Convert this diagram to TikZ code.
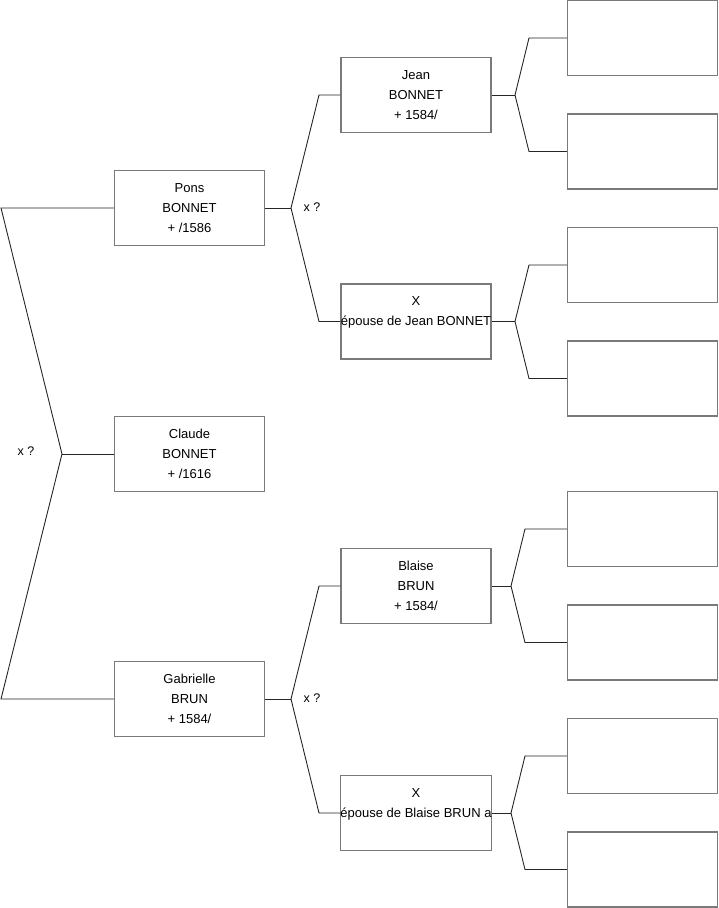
\documentclass[tikz,border=0pt]{standalone}
\usepackage{fontspec}
\setmainfont{Liberation Sans}
\begin{document}
\begin{tikzpicture}[x=1pt,y=-1pt,
  person/.style={draw=black!52,line width=1.4pt,fill=white,minimum width=150pt,minimum height=75pt,inner sep=0pt,align=center,font=\fontsize{13}{20}\selectfont},
  link/.style={draw=black!85,line width=0.9pt},
  lbl/.style={font=\fontsize{12.5}{14}\selectfont,inner sep=0pt}]
\useasboundingbox (0,0) rectangle (719,908);
% generation 1
\node[person] (pons) at (189.5,208) {Pons\\BONNET\\+ /1586};
\node[person] (claude) at (189.5,454) {Claude\\BONNET\\+ /1616};
\node[person] (gab) at (189.5,699) {Gabrielle\\BRUN\\+ 1584/};
% generation 2
\node[person] (jean) at (416,95) {Jean\\BONNET\\+ 1584/};
\node[person] (xj) at (416,321.5) {X\\épouse de Jean BONNET\\~};
\node[person] (blaise) at (416,586) {Blaise\\BRUN\\+ 1584/};
\node[person] (xb) at (416,813) {X\\épouse de Blaise BRUN a\\~};
% generation 3
\node[person] (r1) at (642.5,38) {};
\node[person] (r2) at (642.5,151.5) {};
\node[person] (r3) at (642.5,265) {};
\node[person] (r4) at (642.5,378.5) {};
\node[person] (r5) at (642.5,529) {};
\node[person] (r6) at (642.5,642.5) {};
\node[person] (r7) at (642.5,756) {};
\node[person] (r8) at (642.5,869.5) {};
% fork coordinates
\coordinate (fL) at (62,454);
\coordinate (fLa) at (1,208);
\coordinate (fLb) at (1,699);
\coordinate (fP) at (291,208);
\coordinate (fPa) at (319,95);
\coordinate (fPb) at (319,321.5);
\coordinate (fG) at (291,699);
\coordinate (fGa) at (319,586);
\coordinate (fGb) at (319,813);
\coordinate (fJ) at (515,95);
\coordinate (fJa) at (529,38);
\coordinate (fJb) at (529,151.5);
\coordinate (fX) at (515,321.5);
\coordinate (fXa) at (529,265);
\coordinate (fXb) at (529,378.5);
\coordinate (fB) at (511,586);
\coordinate (fBa) at (525,529);
\coordinate (fBb) at (525,642.5);
\coordinate (fY) at (511,813);
\coordinate (fYa) at (525,756);
\coordinate (fYb) at (525,869.5);
% connectors
\draw[link] (claude.west) -- (fL);
\draw[link] (fL) -- (fLa) -- (pons.west);
\draw[link] (fL) -- (fLb) -- (gab.west);
\draw[link] (pons.east) -- (fP);
\draw[link] (fP) -- (fPa) -- (jean.west);
\draw[link] (fP) -- (fPb) -- (xj.west);
\draw[link] (gab.east) -- (fG);
\draw[link] (fG) -- (fGa) -- (blaise.west);
\draw[link] (fG) -- (fGb) -- (xb.west);
\draw[link] (jean.east) -- (fJ);
\draw[link] (fJ) -- (fJa) -- (r1.west);
\draw[link] (fJ) -- (fJb) -- (r2.west);
\draw[link] (xj.east) -- (fX);
\draw[link] (fX) -- (fXa) -- (r3.west);
\draw[link] (fX) -- (fXb) -- (r4.west);
\draw[link] (blaise.east) -- (fB);
\draw[link] (fB) -- (fBa) -- (r5.west);
\draw[link] (fB) -- (fBb) -- (r6.west);
\draw[link] (xb.east) -- (fY);
\draw[link] (fY) -- (fYa) -- (r7.west);
\draw[link] (fY) -- (fYb) -- (r8.west);
% labels
\node[lbl] (l1) at (26,451) {x ?};
\node[lbl] (l2) at (312,207) {x ?};
\node[lbl] (l3) at (312,698) {x ?};
\end{tikzpicture}
\end{document}
